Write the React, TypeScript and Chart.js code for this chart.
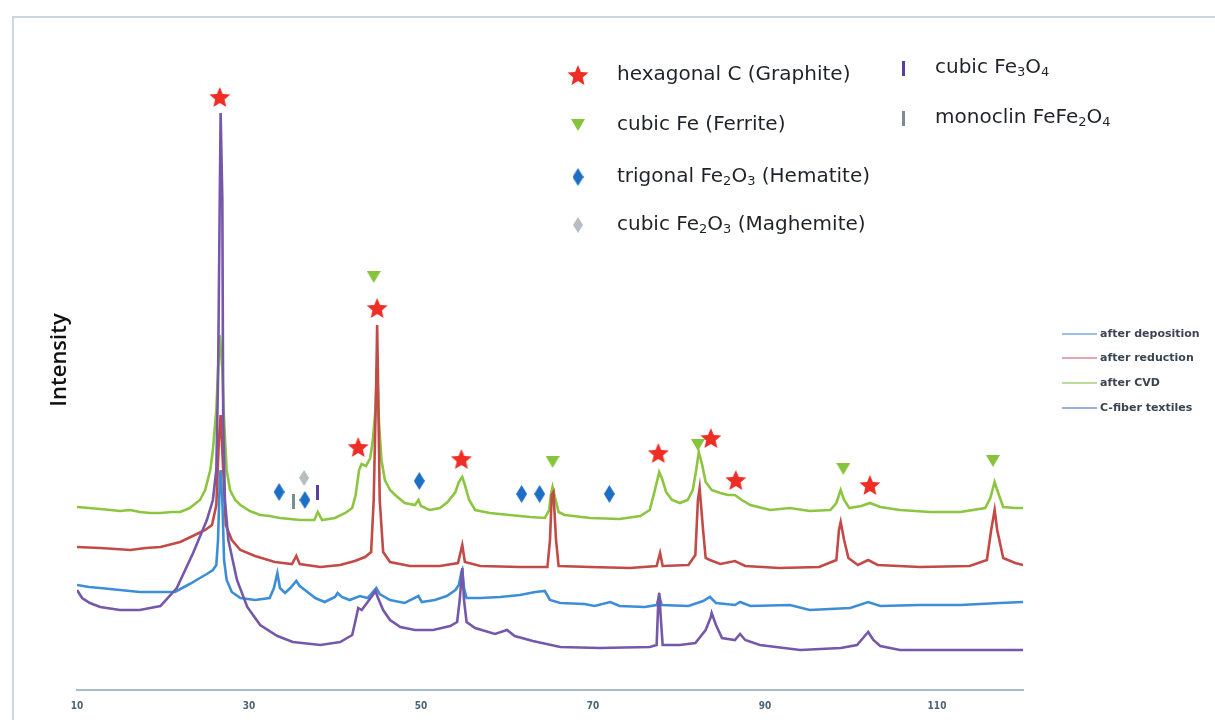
import React, { useEffect, useRef } from "react";
import { Chart, registerables } from "chart.js";

Chart.register(...registerables);

// ---------------- data ----------------
const X_TICKS = [10, 30, 50, 70, 90, 110];
const SERIES_LABELS = ["after deposition", "after reduction", "after CVD", "C-fiber textiles"];

// [2theta, intensity (arbitrary, offset per curve)]
const afterCVD: number[][] = [
  [10, 183], [11.4, 182], [12.7, 181], [13.9, 180], [15, 179], [16.2, 180], [17.3, 178], [18.5, 177], [19.7, 177], [21, 178], [22, 178], [23.1, 182], [24.3, 190],
  [24.9, 200], [25.5, 220], [25.8, 240], [26.2, 280], [26.4, 320], [26.6, 355], [26.9, 320], [27.1, 270],
  [27.4, 220], [27.8, 200], [28.4, 190], [29, 185], [30.1, 179], [31.3, 175], [32.4, 174], [33.6, 172], [34.8, 171], [35.9, 170],
  [37.6, 170], [38, 178], [38.5, 170], [40, 172], [41.2, 177], [42, 182], [42.4, 195], [42.8, 220],
  [43.1, 226], [43.6, 224], [44.1, 232], [44.4, 250], [44.7, 280], [44.9, 325], [45.1, 270], [45.4, 230],
  [45.8, 210], [46.4, 200], [47, 195], [48.1, 187], [49.3, 185], [49.7, 190], [50, 184], [51, 180],
  [52.2, 182], [53.1, 188], [54, 198], [54.4, 208], [54.8, 213], [55.1, 205], [55.6, 190], [56.3, 180],
  [58, 177], [60.3, 175], [62.7, 173], [64.4, 172], [64.9, 180], [65.1, 195], [65.3, 203], [65.6, 192],
  [66, 178], [66.7, 175], [69.7, 172], [73.1, 171], [75.5, 174], [76.6, 180], [77.2, 200], [77.7, 218],
  [78, 212], [78.5, 198], [79.2, 190], [80.1, 187], [81, 190], [81.6, 200], [82, 220], [82.3, 238],
  [82.7, 225], [83.1, 208], [83.8, 200], [84.8, 197], [85.7, 195], [86.5, 195], [87.3, 190], [88.3, 185],
  [90.6, 180], [92.9, 182], [95.2, 179], [97.6, 180], [98.3, 187], [98.8, 200], [99.2, 190], [99.8, 182],
  [101.2, 184], [102.2, 187], [103.4, 183], [105.7, 180], [109.2, 178], [112.7, 178], [115.6, 182],
  [116.2, 192], [116.7, 208], [117.2, 195], [117.7, 183], [119.1, 182], [120, 182],
];

const afterReduction: number[][] = [
  [10, 143], [12.7, 142], [14.5, 141], [16.2, 140], [18, 142], [19.7, 143], [22, 148], [23.7, 155], [24.9, 160], [25.7, 165],
  [26.2, 185], [26.5, 250], [26.7, 275], [27, 220], [27.3, 165], [28, 150], [29, 140], [30.7, 134],
  [33, 128], [35, 126], [35.5, 134], [35.9, 126], [38.3, 123], [40.6, 125], [42.3, 129], [43.5, 133],
  [44.2, 138], [44.5, 190], [44.8, 310], [44.9, 365], [45, 310], [45.2, 190], [45.6, 138], [46.4, 128],
  [48.7, 124], [52.2, 124], [54.3, 127], [54.8, 145], [55.1, 128], [56.9, 124], [61.5, 123], [64.7, 123],
  [65, 150], [65.2, 195], [65.4, 198], [65.7, 150], [66, 124], [69.7, 123], [74.3, 122], [77.4, 124],
  [77.8, 137], [78.1, 124], [81.1, 125], [81.9, 135], [82.2, 190], [82.4, 202], [82.8, 160], [83.1, 132],
  [83.6, 130], [84.8, 126], [86.5, 129], [87.7, 124], [91.7, 122], [96.3, 123], [98.3, 130], [98.6, 160],
  [98.8, 168], [99.2, 150], [99.7, 132], [100.8, 125], [102, 130], [103.1, 125], [108, 123], [113.8, 124],
  [115.8, 130], [116.3, 160], [116.7, 180], [117, 160], [117.7, 132], [119.1, 127], [120, 125],
];

const afterDeposition: number[][] = [
  [10, 105], [11.4, 103], [12.7, 102], [15, 100], [17.3, 98], [19.5, 98], [21.4, 98], [23.1, 106], [24.3, 112], [25.1, 116], [25.8, 120],
  [26.2, 125], [26.4, 150], [26.6, 210], [26.7, 220], [26.9, 190], [27.1, 130], [27.4, 110], [28, 98],
  [29, 92], [30.7, 90], [32.4, 92], [32.9, 102], [33.3, 117], [33.6, 102], [34.2, 97], [34.8, 102],
  [35.5, 109], [35.9, 104], [36.5, 100], [37.7, 92], [38.8, 88], [40, 93], [40.3, 97], [40.8, 93],
  [41.7, 90], [42.9, 94], [43.8, 92], [44.8, 102], [45.2, 96], [46.4, 90], [48.1, 87], [49.7, 94],
  [50.1, 88], [51.6, 90], [53, 94], [54, 100], [54.4, 105], [54.7, 118], [54.8, 120], [55, 102],
  [55.3, 92], [56.9, 92], [59.2, 93], [61.5, 95], [63.3, 98], [64.4, 99], [65, 90], [66.2, 87],
  [69, 86], [70.2, 84], [72, 88], [73.1, 84], [76, 83], [77.4, 85], [77.7, 94], [78, 85], [81.1, 84],
  [82.8, 89], [83.6, 93], [84.3, 87], [86.5, 85], [87.1, 88], [88.3, 84], [92.9, 85], [95.2, 80],
  [99.9, 82], [102, 88], [103.4, 84], [108, 85], [112.7, 85], [117.3, 87], [120, 88],
];

const cFiberTextiles: number[][] = [
  [10, 100], [10.6, 92], [11.5, 87], [12.7, 83], [15, 80], [17.3, 80], [19.7, 84], [21.6, 102],
  [23.5, 137], [25.1, 170], [25.8, 190], [26.2, 220], [26.4, 310], [26.6, 490], [26.7, 577], [26.9, 490],
  [27, 270], [27.2, 190], [27.6, 150], [28.6, 110], [29.8, 83], [31.3, 65], [33.3, 54], [35.1, 48],
  [38.3, 45], [40.6, 48], [42, 55], [42.4, 70], [42.7, 82], [43.1, 80], [43.8, 88], [44.4, 95],
  [44.7, 99], [45, 92], [45.6, 80], [46.4, 70], [47.6, 63], [49.3, 60], [51.4, 60], [53.4, 64],
  [54.2, 68], [54.5, 90], [54.8, 122], [55, 90], [55.3, 68], [56.3, 62], [58.6, 56], [60, 60],
  [60.9, 54], [63, 49], [66.2, 43], [70.8, 42], [76.6, 43], [77.4, 45], [77.6, 90], [77.7, 97],
  [77.9, 70], [78.1, 45], [80.1, 45], [81.9, 47], [83.1, 60], [83.7, 73], [83.8, 77], [84.3, 65],
  [85, 52], [86.5, 50], [87.1, 56], [87.7, 50], [89.4, 45], [94.1, 40], [98.8, 42], [100.7, 45],
  [101.6, 54], [102, 58], [102.6, 50], [103.4, 44], [105.7, 40], [112.7, 40], [120, 40],
];

// phase reflection markers [2theta, marker height]
const graphitePeaks: number[][] = [
  [26.6, 593], [44.9, 382], [42.7, 243], [54.7, 231], [77.6, 237], [83.7, 252], [86.6, 210], [102.2, 205],
];
const ferritePeaks: number[][] = [[44.5, 413], [65.3, 228], [82.2, 245], [99.1, 221], [116.5, 229]];
const hematitePeaks: number[][] = [
  [33.5, 198], [36.5, 190], [49.8, 209], [61.7, 196], [63.8, 196], [71.9, 196],
];
const maghemitePeaks: number[][] = [[36.4, 212]];
const magnetitePeaks: number[][] = [[38, 198]];
const monoclinicPeaks: number[][] = [[35.2, 189]];

const PHASE_LEGEND_COL1: [string, boolean][][] = [
  [["hexagonal C (Graphite)", false]],
  [["cubic Fe (Ferrite)", false]],
  [["trigonal Fe", false], ["2", true], ["O", false], ["3", true], [" (Hematite)", false]],
  [["cubic Fe", false], ["2", true], ["O", false], ["3", true], [" (Maghemite)", false]],
];
const PHASE_LEGEND_COL2: [string, boolean][][] = [
  [["cubic Fe", false], ["3", true], ["O", false], ["4", true]],
  [["monoclin FeFe", false], ["2", true], ["O", false], ["4", true]],
];

// ---------------- styles ----------------
const LINE_COLORS = ["#3d8ed6", "#c24a47", "#8cc540", "#7558aa"];
const LEGEND_LINE_COLORS = ["#7aaade", "#d98a92", "#a5d07a", "#7f92d6"];
const STAR_COLOR = "#ef2d25";
const TRI_COLOR = "#86c43b";
const DIAMOND_COLOR = "#1d6fc6";
const GRAY_DIAMOND_COLOR = "#b7bdc3";
const PURPLE_BAR = "#5a3fa0";
const GRAY_BAR = "#7d8d8e";

function makeCanvas(w: number, h: number, draw: (c: CanvasRenderingContext2D) => void) {
  const c = document.createElement("canvas");
  c.width = w;
  c.height = h;
  const ctx = c.getContext("2d")!;
  draw(ctx);
  return c;
}

function makeStar(r: number, color: string) {
  const s = Math.ceil(r * 2 + 2);
  return makeCanvas(s, s, (ctx) => {
    ctx.fillStyle = color;
    ctx.beginPath();
    for (let i = 0; i < 10; i++) {
      const a = -Math.PI / 2 + (i * Math.PI) / 5;
      const rad = i % 2 ? r * 0.45 : r;
      const px = s / 2 + rad * Math.cos(a);
      const py = s / 2 + 1 + rad * Math.sin(a);
      if (i === 0) ctx.moveTo(px, py);
      else ctx.lineTo(px, py);
    }
    ctx.closePath();
    ctx.fill();
  });
}

function makeTriangle(w: number, h: number, color: string) {
  return makeCanvas(w, h, (ctx) => {
    ctx.fillStyle = color;
    ctx.beginPath();
    ctx.moveTo(0, 0);
    ctx.lineTo(w, 0);
    ctx.lineTo(w / 2, h);
    ctx.closePath();
    ctx.fill();
  });
}

function makeDiamond(w: number, h: number, color: string) {
  return makeCanvas(w, h, (ctx) => {
    ctx.fillStyle = color;
    ctx.beginPath();
    ctx.moveTo(w / 2, 0);
    ctx.lineTo(w, h / 2);
    ctx.lineTo(w / 2, h);
    ctx.lineTo(0, h / 2);
    ctx.closePath();
    ctx.fill();
  });
}

function makeBar(w: number, h: number, color: string) {
  return makeCanvas(w, h, (ctx) => {
    ctx.fillStyle = color;
    ctx.fillRect(0, 0, w, h);
  });
}

const LEGEND_FONT = '"DejaVu Sans", sans-serif';

function drawRich(ctx: CanvasRenderingContext2D, parts: [string, boolean][], x: number, y: number, size: number) {
  let cx = x;
  for (const [t, sub] of parts) {
    const fs = sub ? Math.round(size * 0.66) : size;
    ctx.font = `${fs}px ${LEGEND_FONT}`;
    ctx.fillText(t, cx, sub ? y + size * 0.25 : y);
    cx += ctx.measureText(t).width;
  }
}

export default function App() {
  const ref = useRef<HTMLCanvasElement | null>(null);

  useEffect(() => {
    if (!ref.current) return;
    const star = makeStar(11, STAR_COLOR);
    const tri = makeTriangle(14, 12, TRI_COLOR);
    const dia = makeDiamond(11, 18, DIAMOND_COLOR);
    const gdia = makeDiamond(10, 16, GRAY_DIAMOND_COLOR);
    const pbar = makeBar(3, 15, PURPLE_BAR);
    const gbar = makeBar(3, 15, GRAY_BAR);

    const toXY = (arr: number[][]) => arr.map(([x, y]) => ({ x, y }));
    const seriesData = [afterDeposition, afterReduction, afterCVD, cFiberTextiles];
    const drawOrder = [2, 3, 4, 1];

    const markerSet = (data: number[][], style: HTMLCanvasElement) => ({
      type: "scatter" as const,
      data: toXY(data),
      pointStyle: style,
      pointRadius: 6,
      showLine: false,
      order: 0,
    });

    const decor = {
      id: "decor",
      beforeDraw(chart: any) {
        const ctx = chart.ctx as CanvasRenderingContext2D;
        ctx.save();
        ctx.fillStyle = "#ffffff";
        ctx.fillRect(0, 0, chart.width, chart.height);
        ctx.strokeStyle = "#cdd7de";
        ctx.lineWidth = 2;
        ctx.beginPath();
        ctx.moveTo(13, 720);
        ctx.lineTo(13, 17);
        ctx.lineTo(1215, 17);
        ctx.stroke();
        // y title
        ctx.translate(60, 360);
        ctx.rotate(-Math.PI / 2);
        ctx.fillStyle = "#111111";
        ctx.font = '600 22px "Open Sans", "DejaVu Sans", sans-serif';
        ctx.textAlign = "center";
        ctx.textBaseline = "middle";
        ctx.fillText("Intensity", 0, 0);
        ctx.restore();
      },
      afterDraw(chart: any) {
        const ctx = chart.ctx as CanvasRenderingContext2D;
        ctx.save();
        ctx.textBaseline = "middle";
        ctx.fillStyle = "#1f2329";
        const col1Markers = [star, tri, dia, gdia];
        const col1Y = [75, 125, 177, 225];
        PHASE_LEGEND_COL1.forEach((parts, i) => {
          const m = col1Markers[i];
          ctx.drawImage(m, 578 - m.width / 2, col1Y[i] - m.height / 2);
          drawRich(ctx, parts, 617, col1Y[i], 20);
        });
        const col2Markers = [pbar, gbar];
        const col2Y = [68, 118];
        PHASE_LEGEND_COL2.forEach((parts, i) => {
          const m = col2Markers[i];
          ctx.drawImage(m, 903 - m.width / 2, col2Y[i] - m.height / 2);
          drawRich(ctx, parts, 935, col2Y[i], 20);
        });
        // series legend
        const ly = [334, 358, 383, 408];
        ctx.font = 'bold 11px "DejaVu Sans", sans-serif';
        SERIES_LABELS.forEach((lab, i) => {
          ctx.strokeStyle = LEGEND_LINE_COLORS[i];
          ctx.lineWidth = 1.5;
          ctx.beginPath();
          ctx.moveTo(1062, ly[i]);
          ctx.lineTo(1097, ly[i]);
          ctx.stroke();
          ctx.fillStyle = "#3b4551";
          ctx.fillText(lab, 1100, ly[i]);
        });
        ctx.restore();
      },
    };

    const chart = new Chart(ref.current, {
      type: "line",
      data: {
        datasets: [
          markerSet(graphitePeaks, star),
          markerSet(ferritePeaks, tri),
          markerSet(hematitePeaks, dia),
          markerSet(maghemitePeaks, gdia),
          markerSet(magnetitePeaks, pbar),
          markerSet(monoclinicPeaks, gbar),
          ...seriesData.map((d, i) => ({
            type: "line" as const,
            label: SERIES_LABELS[i],
            data: toXY(d),
            borderColor: LINE_COLORS[i],
            borderWidth: 2.6,
            pointRadius: 0,
            tension: 0,
            fill: false,
            order: drawOrder[i],
          })),
        ] as any,
      },
      options: {
        animation: false,
        responsive: false,
        maintainAspectRatio: false,
        layout: { padding: { left: 77, right: 192, top: 20, bottom: 0 } },
        plugins: { legend: { display: false }, tooltip: { enabled: false } },
        scales: {
          x: {
            type: "linear",
            min: 10,
            max: 120,
            afterBuildTicks: (axis: any) => {
              axis.ticks = X_TICKS.map((v) => ({ value: v }));
            },
            afterFit: (axis: any) => {
              axis.height = 30;
            },
            grid: { display: false, drawTicks: false },
            border: { display: true, color: "#a9bccb", width: 2 },
            ticks: {
              padding: 10,
              maxRotation: 0,
              autoSkip: false,
              color: "#4d6476",
              font: { size: 10, weight: "bold", family: '"DejaVu Sans Condensed", "DejaVu Sans", sans-serif' },
            },
          },
          y: { display: false, min: 0, max: 670 },
        },
      },
      plugins: [decor],
    });
    return () => chart.destroy();
  }, []);

  return (
    <div style={{ position: "absolute", left: 0, top: 0, width: 1215, height: 720, background: "#fff" }}>
      <canvas ref={ref} width={1215} height={720} style={{ display: "block", width: 1215, height: 720 }} />
    </div>
  );
}
